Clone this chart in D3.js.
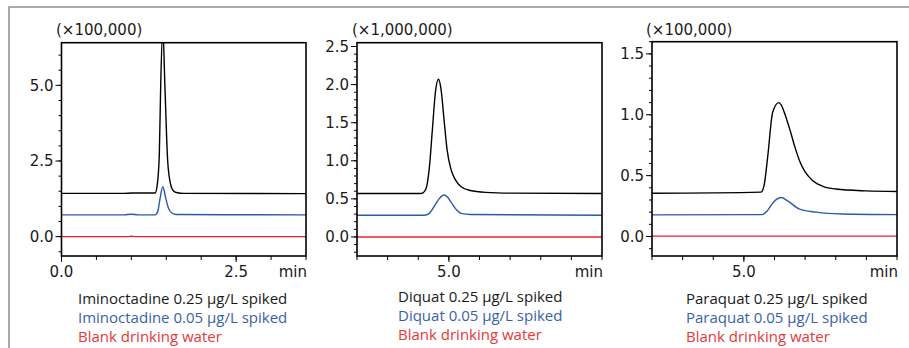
<!DOCTYPE html>
<html>
<head>
<meta charset="utf-8">
<script src="https://cdn.jsdelivr.net/npm/d3@7"></script>
<style>
  html, body { margin: 0; padding: 0; background: #fff; }
  svg { display: block; }
  .ax text { font-family: "DejaVu Sans", sans-serif; font-size: 15px; fill: #1a1a1a; }
  .legend text { font-family: "Open Sans", sans-serif; font-size: 15px; }
</style>
</head>
<body>
<svg id="chart" width="909" height="348"></svg>
<script>
// ── Data (time in min, intensity in the panel's scale unit) ─────────────────
const scaleLabels = ['(×100,000)', '(×1,000,000)', '(×100,000)'];

const xDomains = [[0, 3.5], [3.5, 7.5], [3.5, 7.5]];
const yDomains = [[-0.64, 6.41], [-0.25, 2.55], [-0.16, 1.60]];

const xTickValues = [[0, 2.5], [5.0], [5.0]];
const xTickLabels = [['0.0', '2.5'], ['5.0'], ['5.0']];
const yTickValues = [[0, 2.5, 5.0], [0, 0.5, 1.0, 1.5, 2.0, 2.5], [0, 0.5, 1.0, 1.5]];
const yTickLabels = [['0.0', '2.5', '5.0'], ['0.0', '0.5', '1.0', '1.5', '2.0', '2.5'], ['0.0', '0.5', '1.0', '1.5']];
const xMinorStep = [0.5, 0.5, 0.5];
const yMinorStep = [0.5, 0.1, 0.1];

const legendLabels = [
  ['Iminoctadine 0.25 µg/L spiked', 'Iminoctadine 0.05 µg/L spiked', 'Blank drinking water'],
  ['Diquat 0.25 µg/L spiked', 'Diquat 0.05 µg/L spiked', 'Blank drinking water'],
  ['Paraquat 0.25 µg/L spiked', 'Paraquat 0.05 µg/L spiked', 'Blank drinking water'],
];

const iminoctadine025 = [
  [0, 1.43], [0.9, 1.43], [1.0, 1.44], [1.1, 1.44], [1.34, 1.44], [1.37, 1.7],
  [1.40, 2.7], [1.42, 5.0], [1.45, 6.9], [1.48, 5.0], [1.52, 2.5], [1.56, 1.75],
  [1.60, 1.52], [1.66, 1.45], [1.75, 1.43], [3.5, 1.42],
];
const iminoctadine005 = [
  [0, 0.72], [0.9, 0.72], [1.0, 0.74], [1.1, 0.72], [1.34, 0.72], [1.38, 0.85],
  [1.41, 1.25], [1.45, 1.65], [1.49, 1.3], [1.53, 0.95], [1.58, 0.78],
  [1.64, 0.73], [3.5, 0.72],
];
const blank1 = [[0, 0], [0.95, 0], [1.0, 0.015], [1.05, 0], [3.5, 0]];

const diquat025 = [
  [3.5, 0.57], [4.55, 0.57], [4.62, 0.62], [4.68, 0.9], [4.73, 1.4], [4.78, 1.9],
  [4.83, 2.07], [4.87, 1.95], [4.92, 1.55], [4.97, 1.15], [5.03, 0.9], [5.1, 0.76],
  [5.2, 0.66], [5.35, 0.61], [5.6, 0.585], [6.0, 0.575], [7.5, 0.57],
];
const diquat005 = [
  [3.5, 0.285], [4.6, 0.285], [4.68, 0.31], [4.76, 0.4], [4.84, 0.5], [4.92, 0.55],
  [4.98, 0.52], [5.05, 0.44], [5.12, 0.36], [5.2, 0.31], [5.35, 0.295], [7.5, 0.285],
];
const blank2 = [[3.5, 0], [7.5, 0]];

const paraquat025 = [
  [3.5, 0.355], [5.28, 0.365], [5.33, 0.42], [5.39, 0.66], [5.47, 1.02], [5.57, 1.10],
  [5.62, 1.07], [5.68, 0.99], [5.75, 0.88], [5.83, 0.74], [5.91, 0.62], [6.0, 0.53],
  [6.12, 0.46], [6.3, 0.41], [6.5, 0.39], [6.99, 0.375], [7.5, 0.37],
];
const paraquat005 = [
  [3.5, 0.178], [5.3, 0.18], [5.38, 0.21], [5.48, 0.28], [5.61, 0.32], [5.72, 0.29],
  [5.91, 0.225], [6.18, 0.2], [6.6, 0.185], [7.5, 0.18],
];
const blank3 = [[3.5, 0.003], [7.5, 0.003]];

const traces = [
  [iminoctadine025, iminoctadine005, blank1],
  [diquat025, diquat005, blank2],
  [paraquat025, paraquat005, blank3],
];

const traceColors = ['#000000', '#2b5aa8', '#e8222a'];
const textColors = ['#1a1a1a', '#3a5fa8', '#e83838'];

// ── Layout ──────────────────────────────────────────────────────────────────
const boxes = [
  { left: 61.5, right: 306, top: 42.7, bottom: 256, legendX: 78, legendY: 304, labelX: 56 },
  { left: 357, right: 602, top: 42.7, bottom: 256, legendX: 398, legendY: 302, labelX: 352 },
  { left: 652, right: 897, top: 41.7, bottom: 256, legendX: 686, legendY: 304, labelX: 646 },
];

const svg = d3.select('#chart');

// outer frame
svg.append('path')
  .attr('d', 'M9,348 L9,7 L909,7')
  .attr('fill', 'none')
  .attr('stroke', '#8f8f8f')
  .attr('stroke-width', 1.5);

boxes.forEach((b, i) => {
  const x = d3.scaleLinear().domain(xDomains[i]).range([b.left, b.right]);
  const y = d3.scaleLinear().domain(yDomains[i]).range([b.bottom, b.top]);
  const g = svg.append('g').attr('class', 'ax');

  const clipId = 'clip' + i;
  svg.append('defs').append('clipPath').attr('id', clipId)
    .append('rect')
    .attr('x', b.left).attr('y', b.top)
    .attr('width', b.right - b.left).attr('height', b.bottom - b.top);

  // minor ticks
  const xMinor = d3.range(xDomains[i][0], xDomains[i][1] + 1e-6, xMinorStep[i]);
  const y0 = Math.ceil(yDomains[i][0] / yMinorStep[i]) * yMinorStep[i];
  const yMinor = d3.range(y0, yDomains[i][1] + 1e-6, yMinorStep[i]);

  g.selectAll('.xminor').data(xMinor).join('line')
    .attr('x1', d => x(d)).attr('x2', d => x(d))
    .attr('y1', b.bottom).attr('y2', b.bottom + 4)
    .attr('stroke', '#000').attr('stroke-width', 1);
  g.selectAll('.xmajor').data(xTickValues[i]).join('line')
    .attr('x1', d => x(d)).attr('x2', d => x(d))
    .attr('y1', b.bottom).attr('y2', b.bottom + 6)
    .attr('stroke', '#000').attr('stroke-width', 1);

  g.selectAll('.yminor').data(yMinor).join('line')
    .attr('x1', b.left - 3).attr('x2', b.left)
    .attr('y1', d => y(d)).attr('y2', d => y(d))
    .attr('stroke', '#000').attr('stroke-width', 1);
  g.selectAll('.ymajor').data(yTickValues[i]).join('line')
    .attr('x1', b.left - 6).attr('x2', b.left)
    .attr('y1', d => y(d)).attr('y2', d => y(d))
    .attr('stroke', '#000').attr('stroke-width', 1);

  // tick labels
  g.selectAll('.ylab').data(yTickValues[i]).join('text')
    .attr('x', b.left - 8)
    .attr('y', d => y(d))
    .attr('text-anchor', 'end')
    .attr('dy', '0.36em')
    .text((d, k) => yTickLabels[i][k]);

  g.selectAll('.xlab').data(xTickValues[i]).join('text')
    .attr('x', d => x(d))
    .attr('y', b.bottom + 21)
    .attr('text-anchor', 'middle')
    .text((d, k) => xTickLabels[i][k]);

  g.append('text')
    .attr('x', b.right + 1).attr('y', b.bottom + 21)
    .attr('text-anchor', 'end')
    .text('min');

  g.append('text')
    .attr('x', b.labelX).attr('y', 35)
    .text(scaleLabels[i]);

  // traces
  const line = d3.line()
    .x(d => x(d[0]))
    .y(d => y(d[1]))
    .curve(d3.curveMonotoneX);

  const tg = svg.append('g').attr('clip-path', `url(#${clipId})`);
  [2, 1, 0].forEach(k => {
    tg.append('path')
      .attr('d', line(traces[i][k]))
      .attr('fill', 'none')
      .attr('stroke', traceColors[k])
      .attr('stroke-width', 1.4);
  });

  // plot box
  svg.append('rect')
    .attr('x', b.left).attr('y', b.top)
    .attr('width', b.right - b.left).attr('height', b.bottom - b.top)
    .attr('fill', 'none')
    .attr('stroke', '#000')
    .attr('stroke-width', 1.6);

  // legend
  const lg = svg.append('g').attr('class', 'legend');
  lg.selectAll('text').data(legendLabels[i]).join('text')
    .attr('x', b.legendX)
    .attr('y', (d, k) => b.legendY + k * 18.8)
    .attr('fill', (d, k) => textColors[k])
    .text(d => d);
});
</script>
</body>
</html>
